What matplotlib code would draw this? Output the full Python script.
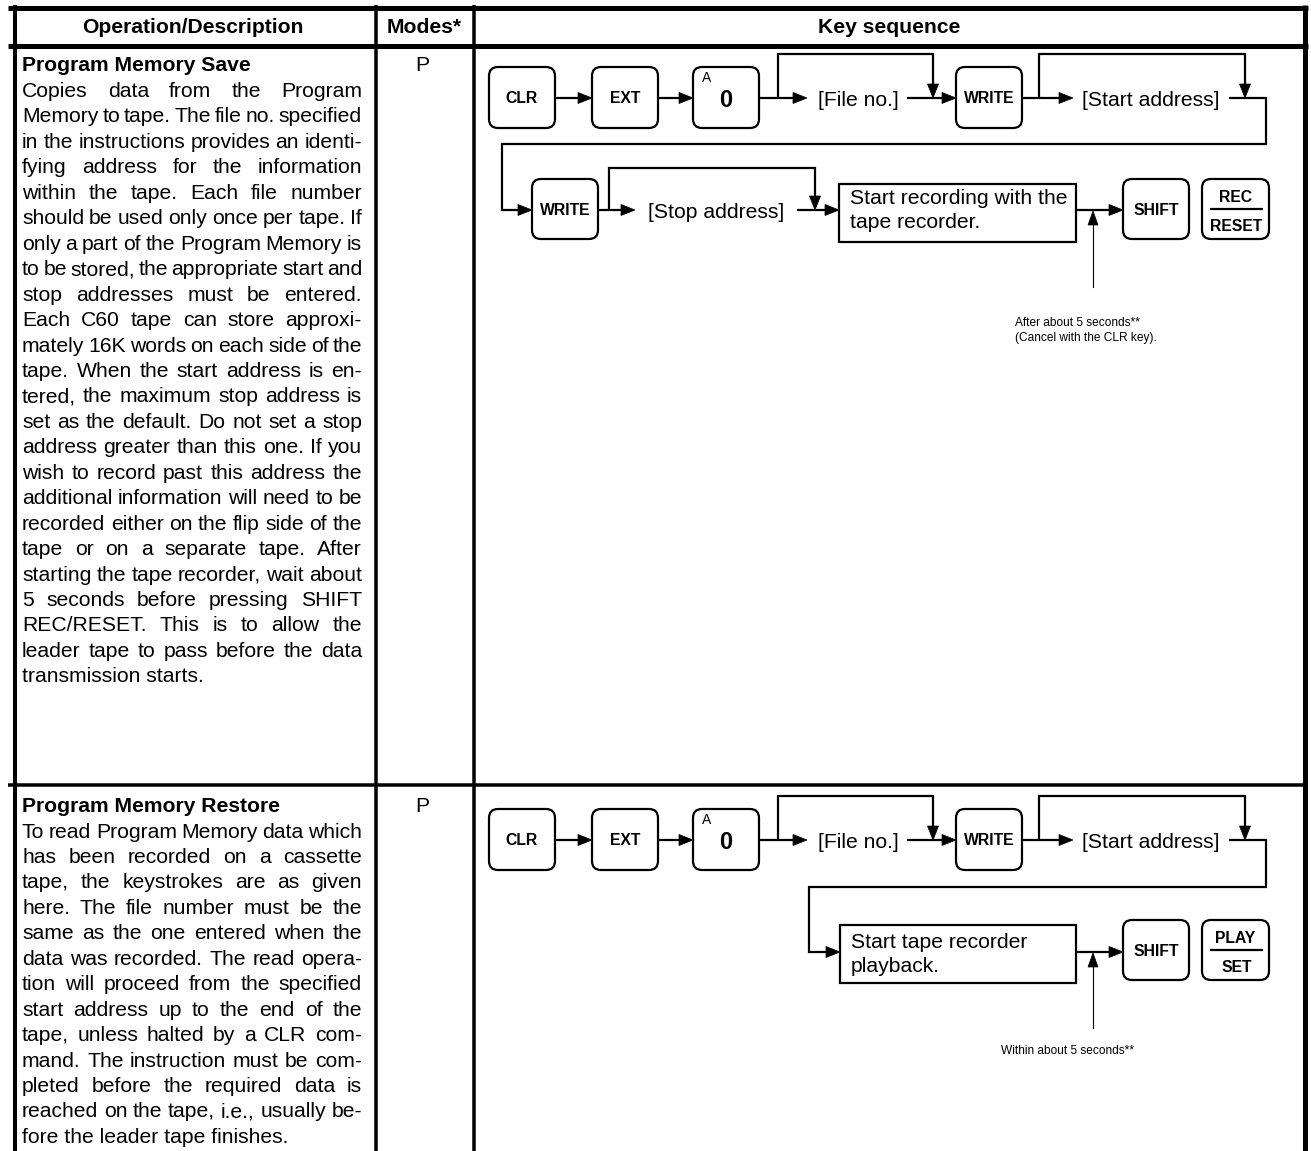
import matplotlib
matplotlib.use('Agg')
import matplotlib.pyplot as plt
from matplotlib.patches import FancyBboxPatch, Rectangle, Polygon

# ---------------- data (texts) ----------------
header_labels = ["Operation/Description", "Modes*", "Key sequence"]
op_titles = ["Program Memory Save", "Program Memory Restore"]
op_modes = ["P", "P"]
save_lines = [
    "Copies data from the Program",
    "Memory to tape. The file no. specified",
    "in the instructions provides an identi-",
    "fying address for the information",
    "within the tape. Each file number",
    "should be used only once per tape. If",
    "only a part of the Program Memory is",
    "to be stored, the appropriate start and",
    "stop addresses must be entered.",
    "Each C60 tape can store approxi-",
    "mately 16K words on each side of the",
    "tape. When the start address is en-",
    "tered, the maximum stop address is",
    "set as the default. Do not set a stop",
    "address greater than this one. If you",
    "wish to record past this address the",
    "additional information will need to be",
    "recorded either on the flip side of the",
    "tape or on a separate tape. After",
    "starting the tape recorder, wait about",
    "5 seconds before pressing SHIFT",
    "REC/RESET. This is to allow the",
    "leader tape to pass before the data",
    "transmission starts.",
]
restore_lines = [
    "To read Program Memory data which",
    "has been recorded on a cassette",
    "tape, the keystrokes are as given",
    "here. The file number must be the",
    "same as the one entered when the",
    "data was recorded. The read opera-",
    "tion will proceed from the specified",
    "start address up to the end of the",
    "tape, unless halted by a CLR com-",
    "mand. The instruction must be com-",
    "pleted before the required data is",
    "reached on the tape, i.e., usually be-",
    "fore the leader tape finishes.",
]
seq_keys = ["CLR", "EXT", "0", "WRITE"]
zero_key_top = "A"
file_label = "[File no.]"
start_label = "[Start address]"
stop_label = "[Stop address]"
save_box_lines = ["Start recording with the", "tape recorder."]
restore_box_lines = ["Start tape recorder", "playback."]
shift_key = "SHIFT"
save_final_key = ["REC", "RESET"]
restore_final_key = ["PLAY", "SET"]
save_note = ["After about 5 seconds**", "(Cancel with the CLR key)."]
restore_note = ["Within about 5 seconds**"]

# ---------------- setup ----------------
plt.rcParams['font.family'] = ['Liberation Sans', 'DejaVu Sans']
W, H = 1311, 1151
fig = plt.figure(figsize=(W / 100, H / 100), dpi=100)
ax = fig.add_axes([0, 0, 1, 1])
ax.set_xlim(0, W)
ax.set_ylim(H, 0)
ax.axis('off')
fig.patch.set_facecolor('white')
r = fig.canvas.get_renderer()

BODY = 15.2
KEY = 11.3
NOTE = 8.6
LW = 1.6
PX = 0.72  # points per pixel

# ---------------- table grid ----------------
def seg(xs, ys, lw):
    ax.plot(xs, ys, color='black', lw=lw, solid_capstyle='butt',
            solid_joinstyle='miter')

seg([8, 1308], [7.5, 7.5], 5 * PX)
seg([8, 1308], [46, 46], 5 * PX)
seg([8, 1308], [784.5, 784.5], 3.5 * PX)
seg([15, 15], [5, H], 4 * PX)
seg([375.5, 375.5], [5, H], 3.5 * PX)
seg([473.5, 473.5], [5, H], 3.5 * PX)
seg([1305, 1305], [5, H], 5 * PX)

# header
for lab, xc in zip(header_labels, [193, 424.5, 889]):
    ax.text(xc, 33, lab, fontsize=BODY, fontweight='bold',
            ha='center', va='baseline')

# ---------------- justified paragraphs ----------------
def width(s, weight='normal', size=BODY):
    t = ax.text(0, 0, s, fontsize=size, fontweight=weight)
    w = t.get_window_extent(renderer=r).width
    t.remove()
    return w

XL, XR = 22, 362
LINE = 25.45

def paragraph(title, lines, y_title, y_first):
    ax.text(XL, y_title, title, fontsize=BODY, fontweight='bold',
            ha='left', va='baseline')
    for i, ln in enumerate(lines):
        y = y_first + i * LINE
        if i == len(lines) - 1:
            ax.text(XL, y, ln, fontsize=BODY, ha='left', va='baseline')
            continue
        words = ln.split()
        ws = [width(w) for w in words]
        gap = (XR - XL - sum(ws)) / (len(words) - 1)
        x = XL
        for w, wd in zip(words, ws):
            ax.text(x, y, w, fontsize=BODY, ha='left', va='baseline')
            x += wd + gap

paragraph(op_titles[0], save_lines, 71, 97)
paragraph(op_titles[1], restore_lines, 812, 837.5)
ax.text(422.5, 71, op_modes[0], fontsize=BODY, ha='center', va='baseline')
ax.text(422.5, 812, op_modes[1], fontsize=BODY, ha='center', va='baseline')

# ---------------- diagram helpers ----------------
def line(pts, lw=LW):
    seg([p[0] for p in pts], [p[1] for p in pts], lw)

def head(x, y, d, L=14, hw=5.5):
    if d == 'right':
        pts = [(x, y), (x - L, y - hw), (x - L, y + hw)]
    elif d == 'down':
        pts = [(x, y), (x - hw, y - L), (x + hw, y - L)]
    elif d == 'up':
        pts = [(x, y), (x - hw, y + L), (x + hw, y + L)]
    ax.add_patch(Polygon(pts, closed=True, fc='black', ec='black', lw=0.5,
                         zorder=4))

def arrow_h(x0, x1, y):
    line([(x0, y), (x1 - 6, y)])
    head(x1, y, 'right')

def key(x0, x1, y0, y1, label=None, size=KEY):
    ax.add_patch(FancyBboxPatch((x0, y0), x1 - x0, y1 - y0,
                                boxstyle='round,pad=0,rounding_size=9',
                                fc='white', ec='black', lw=LW, zorder=3))
    if label:
        ax.text((x0 + x1) / 2, (y0 + y1) / 2 + 1, label, fontsize=size,
                fontweight='bold', ha='center', va='center', zorder=5)

def split_key(x0, x1, y0, y1, top, bottom):
    key(x0, x1, y0, y1)
    ym = (y0 + y1) / 2
    ax.plot([x0 + 8, x1 - 6], [ym, ym], color='black', lw=1.6, zorder=5,
            solid_capstyle='butt')
    ax.text((x0 + x1) / 2, ym - 12, top, fontsize=KEY, fontweight='bold',
            ha='center', va='center', zorder=5)
    ax.text((x0 + x1) / 2 + 1, ym + 17, bottom, fontsize=KEY,
            fontweight='bold', ha='center', va='center', zorder=5)

def first_row(dy):
    y = 98 + dy
    k0, k1 = 67 + dy, 128 + dy
    key(489, 555, k0, k1, seq_keys[0])
    key(592, 658, k0, k1, seq_keys[1])
    key(693, 759, k0, k1)
    ax.text(707, k0 + 11, zero_key_top, fontsize=10, ha='center',
            va='center', zorder=5)
    ax.text(726, y + 2, seq_keys[2], fontsize=17, fontweight='bold',
            ha='center', va='center', zorder=5)
    key(956, 1022, k0, k1, seq_keys[3])
    arrow_h(555, 592, y)
    arrow_h(658, 693, y)
    arrow_h(759, 807, y)
    line([(778, y), (778, 54 + dy), (933, 54 + dy), (933, y - 10)])
    head(933, y, 'down')
    ax.text(818, y + 7.5, file_label, fontsize=BODY, ha='left',
            va='baseline')
    arrow_h(907, 956, y)
    arrow_h(1022, 1073, y)
    line([(1039, y), (1039, 54 + dy), (1245, 54 + dy), (1245, y - 10)])
    head(1245, y, 'down')
    ax.text(1082, y + 7.5, start_label, fontsize=BODY, ha='left',
            va='baseline')

def final_part(y, bx0, by0, by1, box_lines, base1, final_labels,
               ky0, ky1, vline_bottom, notes, note_x, note_y0):
    ax.add_patch(Rectangle((bx0, by0), 1076 - bx0, by1 - by0, fc='white',
                           ec='black', lw=LW, zorder=3))
    for i, t in enumerate(box_lines):
        ax.text(bx0 + 11, base1 + i * 23.5, t, fontsize=BODY, ha='left',
                va='baseline', zorder=5)
    arrow_h(1076, 1123, y)
    key(1123, 1189, ky0, ky1, shift_key)
    split_key(1202, 1269, ky0, ky1, final_labels[0], final_labels[1])
    ax.plot([1093, 1093], [vline_bottom, y + 10], color='black', lw=0.8)
    head(1093, y + 1, 'up', L=14, hw=5)
    for i, t in enumerate(notes):
        ax.text(note_x, note_y0 + i * 15, t, fontsize=NOTE, ha='left',
                va='baseline')

# ---------------- top diagram (save) ----------------
first_row(0)
line([(1229, 98), (1266, 98), (1266, 144), (502, 144), (502, 210),
      (526, 210)])
head(532, 210, 'right')
key(532, 598, 179, 239, seq_keys[3])
line([(609, 210), (609, 168), (815, 168), (815, 200)])
head(815, 210, 'down')
arrow_h(598, 635, 210)
ax.text(648, 217.5, stop_label, fontsize=BODY, ha='left', va='baseline')
arrow_h(797, 839, 210)
final_part(210, 839, 184, 242, save_box_lines, 204, save_final_key,
           179, 239, 287, save_note, 1015, 326)

# ---------------- bottom diagram (restore) ----------------
first_row(742)
line([(1229, 840), (1266, 840), (1266, 887), (809, 887), (809, 952),
      (834, 952)])
head(840, 952, 'right')
final_part(952, 840, 925, 983, restore_box_lines, 948, restore_final_key,
           920, 980, 1028, restore_note, 1001, 1054)

fig.savefig('out.png', dpi=100, facecolor='white')
